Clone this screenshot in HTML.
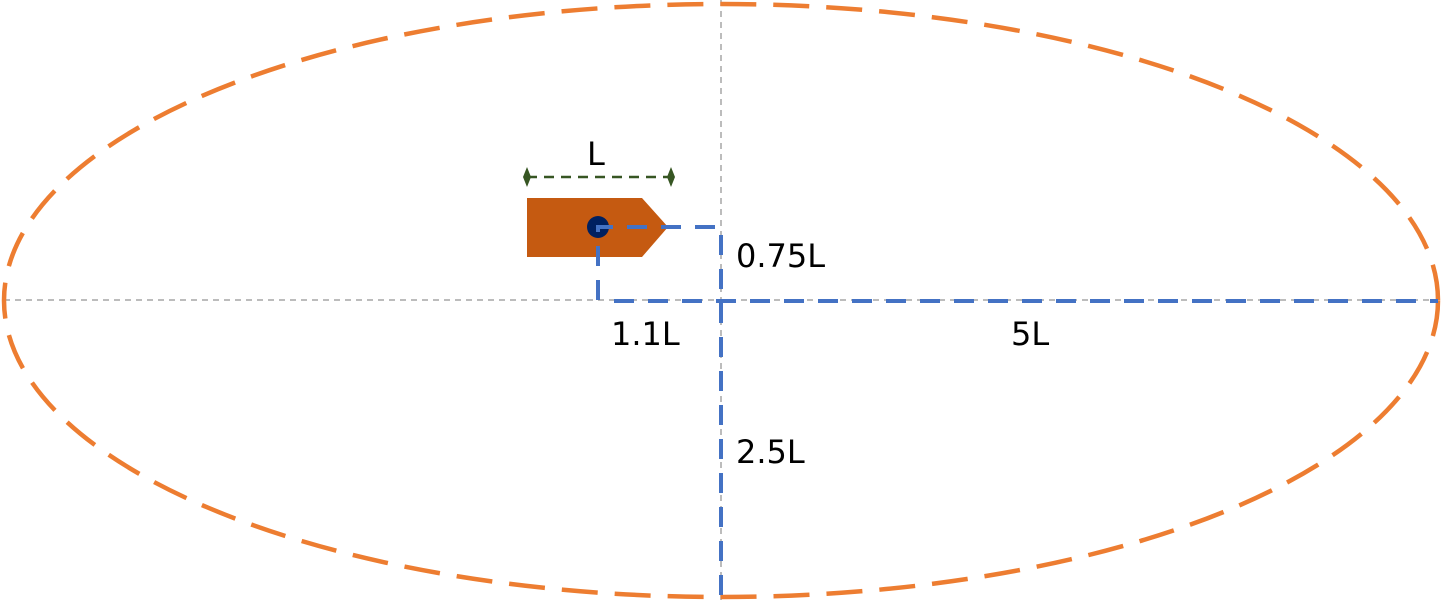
<!DOCTYPE html>
<html><head><meta charset="utf-8"><style>
html,body{margin:0;padding:0;background:#fff;width:1441px;height:603px;overflow:hidden}
text{font-family:"DejaVu Sans","Liberation Sans",sans-serif;font-size:32px;fill:#000}
</style></head><body>
<svg width="1441" height="603" viewBox="0 0 1441 603">
<line x1="4" y1="300" x2="1438" y2="300" stroke="#a6a6a6" stroke-width="1.5" stroke-dasharray="6,5"/>
<line x1="721" y1="0" x2="721" y2="600" stroke="#a6a6a6" stroke-width="1.5" stroke-dasharray="6,5"/>
<ellipse cx="721" cy="300.5" rx="717" ry="296.5" fill="none" stroke="#ED7D31" stroke-width="4.5" stroke-dasharray="36,17"/>
<polygon points="527,198 642,198 668,227 642,257 527,257" fill="#C55A11"/>
<circle cx="598" cy="227" r="11" fill="#002060"/>
<g stroke="#4472C4" stroke-width="4" fill="none" stroke-dasharray="20,14">
<polyline points="598,300 598,227 721,227 721,600"/>
<line x1="614" y1="301" x2="1438" y2="301"/>
</g>
<line x1="527" y1="177" x2="672" y2="177" stroke="#375623" stroke-width="2.5" stroke-dasharray="10,7"/>
<polygon points="527,167 531,177 527,187 523,177" fill="#375623"/>
<polygon points="671,167 675,177 671,187 667,177" fill="#375623"/>
<text x="587" y="165">L</text>
<text x="736" y="267">0.75L</text>
<text x="611" y="345">1.1L</text>
<text x="1011" y="345">5L</text>
<text x="736" y="463">2.5L</text>
</svg>
</body></html>
